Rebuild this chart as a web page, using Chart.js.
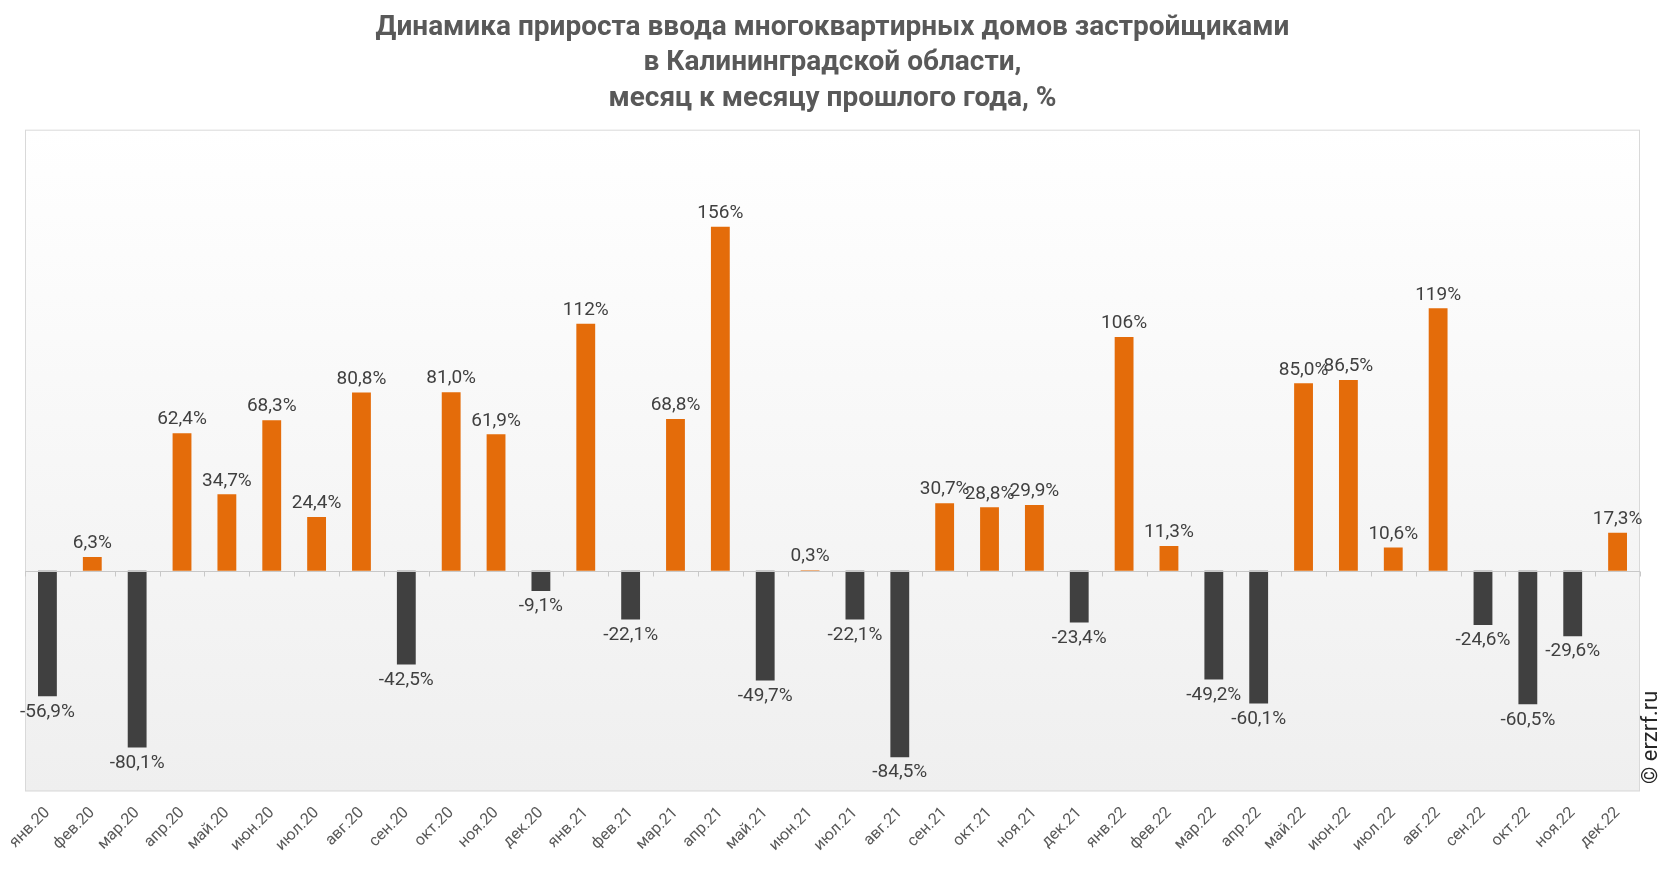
<!DOCTYPE html>
<html>
<head>
<meta charset="utf-8">
<script src="https://cdn.jsdelivr.net/npm/chart.js@4/dist/chart.umd.min.js"></script>
<style>
  html, body { margin: 0; padding: 0; background: #fff; }
  #wrap { width: 1666px; height: 872px; }
</style>
</head>
<body>
<div id="wrap"><canvas id="myChart" width="1666" height="872"></canvas></div>
<script>
const months = ['янв.20', 'фев.20', 'мар.20', 'апр.20', 'май.20', 'июн.20', 'июл.20', 'авг.20', 'сен.20', 'окт.20', 'ноя.20', 'дек.20',
  'янв.21', 'фев.21', 'мар.21', 'апр.21', 'май.21', 'июн.21', 'июл.21', 'авг.21', 'сен.21', 'окт.21', 'ноя.21', 'дек.21',
  'янв.22', 'фев.22', 'мар.22', 'апр.22', 'май.22', 'июн.22', 'июл.22', 'авг.22', 'сен.22', 'окт.22', 'ноя.22', 'дек.22'];
const growth = [-56.9, 6.3, -80.1, 62.4, 34.7, 68.3, 24.4, 80.8, -42.5, 81.0, 61.9, -9.1,
  112, -22.1, 68.8, 156, -49.7, 0.3, -22.1, -84.5, 30.7, 28.8, 29.9, -23.4,
  106, 11.3, -49.2, -60.1, 85.0, 86.5, 10.6, 119, -24.6, -60.5, -29.6, 17.3];
const titleLines = ['Динамика прироста ввода многоквартирных домов застройщиками', 'в Калининградской области,', 'месяц к месяцу прошлого года, %'];
const watermark = '© erzrf.ru';

const ORANGE = '#e46c0a';
const DARK = '#404040';

function fmt(v) {
  if (Math.abs(v) >= 100) return Math.round(v) + '%';
  return v.toFixed(1).replace('.', ',') + '%';
}

// background gradient + border of the plot area, zero line, value labels
const areaPlugin = {
  id: 'area',
  beforeDraw(chart) {
    const { ctx, chartArea: a } = chart;
    const g = ctx.createLinearGradient(0, a.top, 0, a.bottom);
    g.addColorStop(0, '#ffffff');
    g.addColorStop(1, '#efefef');
    ctx.save();
    ctx.fillStyle = g;
    ctx.fillRect(a.left, a.top, a.right - a.left, a.bottom - a.top);
    ctx.strokeStyle = '#d9d9d9';
    ctx.lineWidth = 1;
    ctx.strokeRect(a.left + 0.5, a.top + 0.5, a.right - a.left - 1, a.bottom - a.top - 1);
    ctx.restore();
  },
  afterDatasetsDraw(chart) {
    const { ctx } = chart;
    const x = chart.scales.x, y = chart.scales.y;
    const y0 = Math.round(y.getPixelForValue(0)) + 0.5;
    ctx.save();
    ctx.strokeStyle = '#c8c8c8';
    ctx.lineWidth = 1;
    ctx.beginPath();
    ctx.moveTo(chart.chartArea.left, y0);
    ctx.lineTo(chart.chartArea.right, y0);
    const half = (x.getPixelForTick(1) - x.getPixelForTick(0)) / 2;
    for (let i = 0; i <= months.length; i++) {
      const px = Math.round(x.getPixelForTick(Math.min(i, months.length - 1)) + (i === months.length ? half : -half)) + 0.5;
      ctx.moveTo(px, y0);
      ctx.lineTo(px, y0 + 5);
    }
    ctx.stroke();

    // value labels
    ctx.font = '19px Roboto';
    ctx.fillStyle = '#404040';
    ctx.textAlign = 'center';
    chart.getDatasetMeta(0).data.forEach((bar, i) => {
      const v = growth[i];
      if (v >= 0) {
        ctx.textBaseline = 'bottom';
        ctx.fillText(fmt(v), bar.x, bar.y - 4);
      } else {
        ctx.textBaseline = 'top';
        ctx.fillText(fmt(v), bar.x, bar.y + 6);
      }
    });

    // watermark
    ctx.font = '22px Roboto';
    ctx.fillStyle = '#262626';
    ctx.textAlign = 'left';
    ctx.textBaseline = 'middle';
    ctx.translate(1651, 784);
    ctx.rotate(-Math.PI / 2);
    ctx.fillText(watermark, 0, 0);
    ctx.restore();
  }
};

const ctx = document.getElementById('myChart').getContext('2d');
new Chart(ctx, {
  type: 'bar',
  data: {
    labels: months,
    datasets: [{
      data: growth,
      backgroundColor: growth.map(v => v >= 0 ? ORANGE : DARK),
      barPercentage: 0.42,
      categoryPercentage: 1
    }]
  },
  options: {
    responsive: false,
    animation: false,
    layout: { padding: { left: 25, right: 26, top: 0, bottom: 13 } },
    plugins: {
      legend: { display: false },
      tooltip: { enabled: false },
      title: {
        display: true,
        text: titleLines,
        color: '#595959',
        font: { family: 'Roboto', size: 28, weight: 'bold', lineHeight: 1.27 },
        padding: { top: 10, bottom: 13 }
      }
    },
    scales: {
      x: {
        grid: { display: false },
        border: { display: false },
        ticks: {
          color: '#595959',
          font: { family: 'Roboto', size: 16 },
          maxRotation: 45,
          minRotation: 45,
          autoSkip: false,
          padding: 4
        }
      },
      y: {
        display: false,
        min: -100,
        max: 200
      }
    }
  },
  plugins: [areaPlugin]
});
</script>
</body>
</html>
